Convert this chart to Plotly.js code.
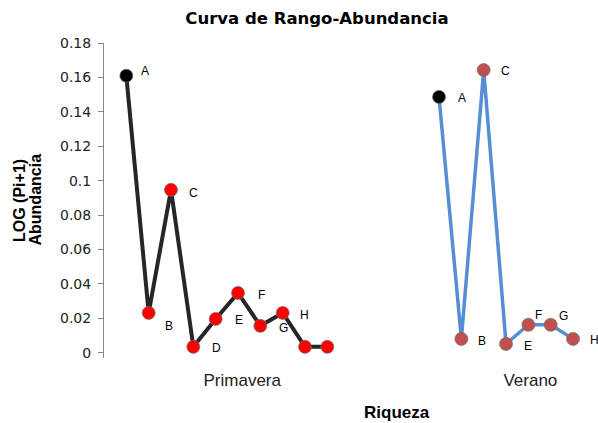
<!DOCTYPE html>
<html>
<head>
<meta charset="utf-8">
<script src="https://cdn.plot.ly/plotly-3.0.1.min.js"></script>
<style>html,body{margin:0;padding:0;background:#fff;}#chart{width:598px;height:423px;}</style>
</head>
<body>
<div id="chart"></div>
<script>
// ---- data ----
var primX = [1, 2, 3, 4, 5, 6, 7, 8, 9, 10];
var primY = [0.161, 0.0232, 0.0947, 0.0035, 0.0197, 0.0348, 0.0157, 0.0232, 0.0035, 0.0035];
var primLabels = ['A', 'B', 'C', 'D', 'E', 'F', 'G', 'H', '', ''];
var verX = [15, 16, 17, 18, 19, 20, 21];
var verY = [0.1487, 0.0081, 0.1643, 0.0052, 0.0163, 0.0163, 0.0081];
var verLabels = ['A', 'B', 'C', 'E', 'F', 'G', 'H'];
var yTicks = [0, 0.02, 0.04, 0.06, 0.08, 0.1, 0.12, 0.14, 0.16, 0.18];
var yTickText = ['0', '0.02', '0.04', '0.06', '0.08', '0.1', '0.12', '0.14', '0.16', '0.18'];
var groupPos = [6.19, 19.09];
var groupNames = ['Primavera', 'Verano'];

// ---- styles ----
var primColors = ['#000000', '#ff0000', '#ff0000', '#ff0000', '#ff0000', '#ff0000', '#ff0000', '#ff0000', '#ff0000', '#ff0000'];
var verColors = ['#000000', '#c0504d', '#c0504d', '#c0504d', '#c0504d', '#c0504d', '#c0504d'];
var primShiftX = [19, 20, 22, 23, 23, 23, 23, 22, 0, 0];
var primShiftY = [5, -13, -3, -1, -1, -2, -2, -2, 0, 0];
var verShiftX = [23, 21, 22, 22, 10, 13, 21];
var verShiftY = [-1, -2, -1, -2, 10, 9, -1];

var traces = [
  {x: primX, y: primY, mode: 'lines+markers', type: 'scatter',
   line: {color: '#262626', width: 4},
   marker: {size: 13, color: primColors, line: {color: 'rgba(110,110,110,0.7)', width: 1}},
   hoverinfo: 'none', showlegend: false},
  {x: verX, y: verY, mode: 'lines+markers', type: 'scatter',
   line: {color: '#558ed5', width: 3.5},
   marker: {size: 13, color: verColors, line: {color: 'rgba(110,110,110,0.7)', width: 1}},
   hoverinfo: 'none', showlegend: false}
];

var annotations = [];
function addLabels(xs, ys, labels, sx, sy) {
  for (var i = 0; i < xs.length; i++) {
    if (!labels[i]) continue;
    annotations.push({x: xs[i], y: ys[i], xref: 'x', yref: 'y', text: labels[i], showarrow: false,
      xshift: sx[i], yshift: sy[i], font: {family: 'Liberation Sans, Arial, sans-serif', size: 12, color: '#000'}});
  }
}
addLabels(primX, primY, primLabels, primShiftX, primShiftY);
addLabels(verX, verY, verLabels, verShiftX, verShiftY);

annotations.push({xref: 'paper', yref: 'paper', x: (19 - 104) / 486, y: (358 - 201) / 315, text: 'LOG (Pi+1)',
  textangle: -90, showarrow: false, xanchor: 'center', yanchor: 'middle',
  font: {family: 'Liberation Sans, Arial, sans-serif', size: 16, color: '#000', weight: 'bold'}});
annotations.push({xref: 'paper', yref: 'paper', x: (35 - 104) / 486, y: (358 - 199.5) / 315, text: 'Abundancia',
  textangle: -90, showarrow: false, xanchor: 'center', yanchor: 'middle',
  font: {family: 'Liberation Sans, Arial, sans-serif', size: 16, color: '#000', weight: 'bold'}});
annotations.push({xref: 'paper', yref: 'paper', x: (397 - 104) / 486, y: (358 - 412) / 315, text: 'Riqueza',
  showarrow: false, xanchor: 'center', yanchor: 'middle',
  font: {family: 'Liberation Sans, Arial, sans-serif', size: 17, color: '#000', weight: 'bold'}});

var layout = {
  width: 598, height: 423,
  margin: {l: 104, r: 8, t: 43, b: 65},
  paper_bgcolor: '#ffffff', plot_bgcolor: '#ffffff',
  title: {text: 'Curva de Rango-Abundancia', xref: 'container', yref: 'container',
    x: 317 / 598, y: 1 - 18 / 423, xanchor: 'center', yanchor: 'middle',
    font: {family: 'DejaVu Sans, Verdana, sans-serif', size: 16.5, color: '#000', weight: 'bold'}},
  xaxis: {range: [0, 21.76], showline: false, showgrid: false, zeroline: false, ticks: '',
    tickmode: 'array', tickvals: groupPos, ticktext: groupNames, ticklabelstandoff: 10,
    tickfont: {family: 'Liberation Sans, Arial, sans-serif', size: 17, color: '#222'}, fixedrange: true},
  yaxis: {range: [-0.003, 0.18], showline: true, linecolor: '#868686', linewidth: 1,
    showgrid: false, zeroline: false, ticks: 'outside', ticklen: 5, tickcolor: '#868686',
    tickmode: 'array', tickvals: yTicks, ticktext: yTickText, ticklabelstandoff: 4,
    tickfont: {family: 'DejaVu Sans, Verdana, sans-serif', size: 14, color: '#222'}, fixedrange: true},
  annotations: annotations
};

Plotly.newPlot('chart', traces, layout, {displayModeBar: false, staticPlot: true});
</script>
</body>
</html>
